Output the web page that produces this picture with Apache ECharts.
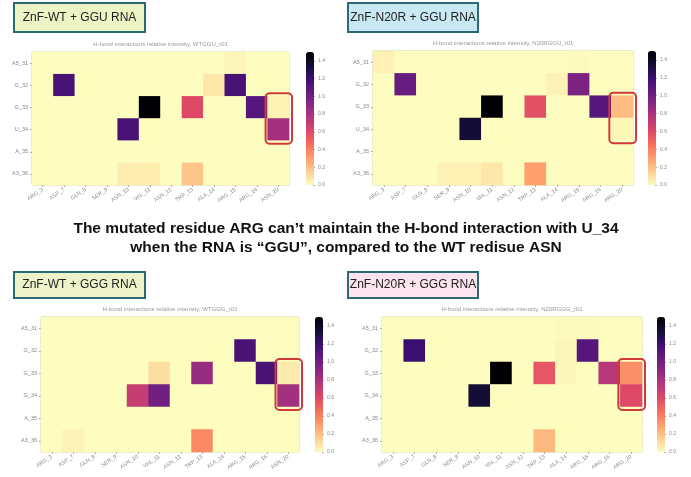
<!DOCTYPE html>
<html>
<head>
<meta charset="utf-8">
<script src="https://cdn.jsdelivr.net/npm/echarts@6.0.0/dist/echarts.min.js"></script>
<style>
html,body{margin:0;padding:0;background:#fff;}
#main{width:691px;height:477px;}
</style>
</head>
<body>
<div id="main"></div>
<script>
// protein residues (x) and RNA residues (y)
var resWT   = ['ARG_3','ASP_7','GLN_8','SER_9','ASN_10','VAL_11','ASN_12','TRP_13','ALA_14','ARG_15','ARG_16','ASN_20'];
var resN20R = ['ARG_3','ASP_7','GLN_8','SER_9','ASN_10','VAL_11','ASN_12','TRP_13','ALA_14','ARG_15','ARG_16','ARG_20'];
var rnaGGU  = ['A5_31','G_32','G_33','U_34','A_35','A3_36'];
var rnaGGG  = ['A5_31','G_32','G_33','G_34','A_35','A3_36'];
var cbTicks = [0, 0.2, 0.4, 0.6, 0.8, 1.0, 1.2, 1.4];

// relative intensity, one row per RNA residue
var wtGGU = [
  [0, 0,    0, 0, 0,    0,    0, 0,    0,    0.02, 0,    0],
  [0, 1.15, 0, 0, 0,    0,    0, 0,    0.07, 1.15, 0,    0],
  [0, 0,    0, 0, 0,    1.5,  0, 0.6,  0,    0,    1.1,  0.04],
  [0, 0,    0, 0, 1.15, 0,    0, 0,    0,    0,    0,    0.82],
  [0, 0,    0, 0, 0,    0,    0, 0,    0,    0,    0,    0],
  [0, 0,    0, 0, 0.05, 0.05, 0, 0.18, 0,    0,    0,    0]
];
var n20rGGU = [
  [0.04, 0,    0, 0,    0,    0,    0, 0,    0,    0.01, 0,   0],
  [0,    1.03, 0, 0,    0,    0,    0, 0,    0.04, 0.96, 0,   0],
  [0,    0,    0, 0,    0,    1.5,  0, 0.57, 0,    0,    1.1, 0.21],
  [0,    0,    0, 0,    1.35, 0,    0, 0,    0,    0,    0,   0.02],
  [0,    0,    0, 0,    0,    0,    0, 0,    0,    0,    0,   0],
  [0,    0,    0, 0.04, 0.04, 0.07, 0, 0.3,  0,    0,    0,   0]
];
var wtGGG = [
  [0, 0,    0, 0, 0,   0,   0, 0,    0, 0,    0,    0],
  [0, 0,    0, 0, 0,   0,   0, 0,    0, 1.15, 0,    0],
  [0, 0,    0, 0, 0,   0.1, 0, 0.87, 0, 0,    1.15, 0.06],
  [0, 0,    0, 0, 0.7, 1.0, 0, 0,    0, 0,    0,    0.82],
  [0, 0,    0, 0, 0,   0,   0, 0,    0, 0,    0,    0],
  [0, 0.03, 0, 0, 0,   0,   0, 0.37, 0, 0,    0,    0]
];
var n20rGGG = [
  [0, 0,   0, 0, 0,    0,   0, 0,    0.01, 0.01, 0,    0],
  [0, 1.2, 0, 0, 0,    0,   0, 0,    0.02, 1.1,  0,    0],
  [0, 0,   0, 0, 0,    1.5, 0, 0.55, 0.02, 0,    0.75, 0.35],
  [0, 0,   0, 0, 1.35, 0,   0, 0,    0,    0,    0,    0.6],
  [0, 0,   0, 0, 0,    0,   0, 0,    0,    0,    0,    0],
  [0, 0,   0, 0, 0,    0,   0, 0.22, 0,    0,    0,    0]
];

var magmaR = ['#fcfdbf','#fecf92','#fe9f6d','#f7705c','#de4968','#b73779','#8c2981','#641a80','#3b0f70','#140e36','#000004'];

var panels = [
  {name:'ZnF-WT + GGU RNA', title:'H-bond interactions relative intensity, WTGGU_r01', x:resWT, y:rnaGGU, v:wtGGU,
   grid:{left:32, top:52, width:257, height:133}, cb:306, box:{x:14, y:3, w:131, h:29, fill:'#eef3c6'}},
  {name:'ZnF-N20R + GGU RNA', title:'H-bond interactions relative intensity, N20RGGU_r01', x:resN20R, y:rnaGGU, v:n20rGGU,
   grid:{left:373, top:51, width:260, height:134}, cb:648, box:{x:348, y:3, w:130, h:29, fill:'#c8e8f3'}},
  {name:'ZnF-WT + GGG RNA', title:'H-bond interactions relative intensity, WTGGG_r01', x:resWT, y:rnaGGG, v:wtGGG,
   grid:{left:41, top:317, width:258, height:135}, cb:315, box:{x:14, y:272, w:131, h:26, fill:'#eef2c8'}},
  {name:'ZnF-N20R + GGG RNA', title:'H-bond interactions relative intensity, N20RGGG_r01', x:resN20R, y:rnaGGG, v:n20rGGG,
   grid:{left:382, top:317, width:260, height:135}, cb:657, box:{x:348, y:272, w:130, h:26, fill:'#fbe4ee'}}
];

var chart = echarts.init(document.getElementById('main'));
var font = '"Liberation Sans", Arial, sans-serif';
var option = {
  animation: false,
  backgroundColor: '#fff',
  textStyle: {fontFamily: font},
  grid: [], xAxis: [], yAxis: [], series: [], visualMap: []
};

panels.forEach(function (p, i) {
  var g = 2 * i;
  option.grid.push(Object.assign({show: true, borderColor: '#cfcfa2', borderWidth: 1, backgroundColor: '#fcfdbf'}, p.grid));
  option.xAxis.push({
    type: 'category', gridIndex: g, data: p.x,
    axisLine: {show: false},
    axisTick: {show: true, alignWithLabel: true, length: 2, lineStyle: {color: '#aaa'}},
    axisLabel: {rotate: 35, interval: 0, fontSize: 5.5, color: '#888', margin: 4},
    splitLine: {show: false}
  });
  option.yAxis.push({
    type: 'category', gridIndex: g, data: p.y, inverse: true,
    axisLine: {show: false},
    axisTick: {show: true, alignWithLabel: true, length: 2, lineStyle: {color: '#aaa'}},
    axisLabel: {fontSize: 5.5, color: '#888', margin: 4},
    splitLine: {show: false}
  });
  var d = [];
  p.v.forEach(function (row, r) {
    row.forEach(function (val, c) { d.push([c, r, val]); });
  });
  option.series.push({type: 'heatmap', xAxisIndex: g, yAxisIndex: g, data: d, emphasis: {disabled: true}});
  option.visualMap.push({
    type: 'continuous', seriesIndex: i, min: 0, max: 1.5, calculable: false, hoverLink: false,
    orient: 'vertical', left: p.cb, top: p.grid.top, itemWidth: 8, itemHeight: p.grid.height,
    padding: 0, inRange: {color: magmaR}
  });
  // colorbar tick labels
  option.grid.push({left: p.cb + 7, top: p.grid.top, width: 1, height: p.grid.height, show: false});
  option.xAxis.push({type: 'value', gridIndex: g + 1, show: false});
  option.yAxis.push({
    type: 'value', gridIndex: g + 1, min: 0, max: 1.5, position: 'right',
    axisLine: {show: false},
    axisTick: {show: true, length: 2, customValues: cbTicks, lineStyle: {color: '#aaa'}},
    axisLabel: {customValues: cbTicks, fontSize: 5, color: '#888', margin: 4,
      formatter: function (v) { return v.toFixed(1); }},
    splitLine: {show: false}
  });
});

chart.setOption(option);

var graphics = [];
panels.forEach(function (p, i) {
  var b = p.box;
  graphics.push({type: 'rect', shape: {x: b.x, y: b.y, width: b.w, height: b.h},
    style: {fill: b.fill, stroke: '#2c6878', lineWidth: 2}});
  graphics.push({type: 'text', x: b.x + b.w / 2, y: b.y + b.h / 2,
    style: {text: p.name, fontSize: 12, fontFamily: font, fill: '#222', align: 'center', verticalAlign: 'middle'}});
  graphics.push({type: 'text', x: p.grid.left + p.grid.width / 2, y: p.grid.top - 8,
    style: {text: p.title, fontSize: 6, fontFamily: font, fill: '#999', align: 'center', verticalAlign: 'middle'}});
  // red box round the last residue, rows 33 and 34
  var c1 = chart.convertToPixel({xAxisIndex: 2 * i, yAxisIndex: 2 * i}, [p.x.length - 1, 2]);
  var c2 = chart.convertToPixel({xAxisIndex: 2 * i, yAxisIndex: 2 * i}, [p.x.length - 1, 3]);
  var cw = p.grid.width / p.x.length, ch = p.grid.height / p.y.length;
  graphics.push({type: 'rect', z: 100,
    shape: {x: c1[0] - cw / 2 - 2, y: c1[1] - ch / 2 - 3, width: cw + 5, height: c2[1] - c1[1] + ch + 6, r: 4},
    style: {fill: 'none', stroke: '#d03a3a', lineWidth: 2}});
});
graphics.push({type: 'text', x: 346, y: 229,
  style: {text: 'The mutated residue ARG can\u2019t maintain the H-bond interaction with U_34', fontSize: 15.5, fontWeight: 'bold',
    fontFamily: font, fill: '#111', align: 'center', verticalAlign: 'middle'}});
graphics.push({type: 'text', x: 346, y: 248,
  style: {text: 'when the RNA is \u201cGGU\u201d, compared to the WT redisue ASN', fontSize: 15.5, fontWeight: 'bold',
    fontFamily: font, fill: '#111', align: 'center', verticalAlign: 'middle'}});

chart.setOption({graphic: graphics});
</script>
</body>
</html>
